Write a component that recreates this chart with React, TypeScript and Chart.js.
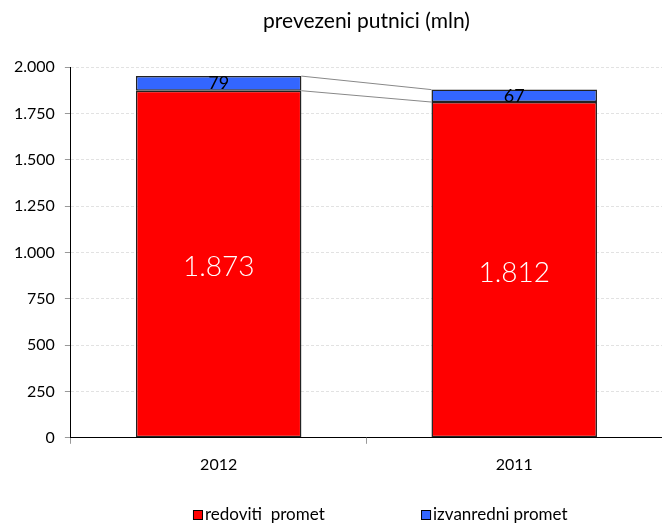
import React, { useEffect, useRef } from "react";
import { Chart, registerables } from "chart.js";

Chart.register(...registerables);

const categories = ["2012", "2011"];
const redovitiValues = [1873, 1812];
const izvanredniValues = [79, 67];
const seriesNames = ["redoviti  promet", "izvanredni promet"];
const seriesColors = ["#ff0000", "#3366ff"];
const titleText = "prevezeni putnici (mln)";
const yMax = 2000;
const yStep = 250;

const FONT = "Lato, 'Noto Sans', sans-serif";

const fmt = (v: number) =>
  String(Math.round(v)).replace(/\B(?=(\d{3})+(?!\d))/g, ".");

const seriesLinesPlugin = {
  id: "seriesLines",
  beforeDatasetsDraw(chart: any) {
    const ctx = chart.ctx;
    ctx.save();
    ctx.strokeStyle = "#888888";
    ctx.lineWidth = 1;
    chart.data.datasets.forEach((_ds: any, di: number) => {
      const meta = chart.getDatasetMeta(di);
      for (let i = 0; i < meta.data.length - 1; i++) {
        const a = meta.data[i];
        const b = meta.data[i + 1];
        ctx.beginPath();
        ctx.moveTo(a.x + a.width / 2, a.y);
        ctx.lineTo(b.x - b.width / 2, b.y);
        ctx.stroke();
      }
    });
    ctx.restore();
  },
};

const labelsPlugin = {
  id: "barLabels",
  afterDatasetsDraw(chart: any) {
    const ctx = chart.ctx;
    ctx.save();
    ctx.textAlign = "center";
    ctx.textBaseline = "middle";
    chart.data.datasets.forEach((ds: any, di: number) => {
      const meta = chart.getDatasetMeta(di);
      meta.data.forEach((bar: any, i: number) => {
        const cy = (bar.y + bar.base) / 2;
        if (di === 0) {
          ctx.fillStyle = "#ffffff";
          ctx.font = `300 28px ${FONT}`;
          ctx.fillText(fmt(ds.data[i]), bar.x, cy + 3);
        } else {
          ctx.fillStyle = "#000000";
          ctx.font = `18px ${FONT}`;
          ctx.fillText(fmt(ds.data[i]), bar.x, cy);
        }
      });
    });
    ctx.restore();
  },
};

const legendPlugin = {
  id: "customLegend",
  afterDraw(chart: any) {
    const ctx = chart.ctx;
    const w = chart.width;
    const y = chart.height - 8;
    const starts = [w * 0.2915, w * 0.636];
    ctx.save();
    ctx.font = `17px ${FONT}`;
    ctx.textBaseline = "middle";
    ctx.textAlign = "left";
    chart.data.datasets.forEach((ds: any, i: number) => {
      const x = starts[i];
      ctx.fillStyle = ds.backgroundColor;
      ctx.fillRect(x, y - 5, 10, 10);
      ctx.strokeStyle = "#000";
      ctx.lineWidth = 1;
      ctx.strokeRect(x + 0.5, y - 4.5, 9, 9);
      ctx.fillStyle = "#000";
      ctx.fillText(ds.label, x + 12, y);
    });
    ctx.restore();
  },
};

export default function App() {
  const ref = useRef<HTMLCanvasElement | null>(null);
  useEffect(() => {
    if (!ref.current) return;
    const chart = new Chart(ref.current, {
      type: "bar",
      data: {
        labels: categories,
        datasets: [
          {
            label: seriesNames[0],
            data: redovitiValues,
            backgroundColor: seriesColors[0],
            borderColor: "#222",
            borderWidth: 1.5,
            borderSkipped: false,
          },
          {
            label: seriesNames[1],
            data: izvanredniValues,
            backgroundColor: seriesColors[1],
            borderColor: "#222",
            borderWidth: 1.5,
            borderSkipped: false,
          },
        ],
      },
      options: {
        animation: false,
        responsive: false,
        maintainAspectRatio: false,
        datasets: { bar: { categoryPercentage: 1, barPercentage: 0.56 } },
        layout: { padding: { left: 4, right: 0, top: 0, bottom: 38 } },
        plugins: {
          legend: { display: false },
          tooltip: { enabled: false },
          title: {
            display: true,
            text: titleText,
            fullSize: false,
            color: "#000",
            font: { family: FONT, size: 21, weight: "normal" },
            padding: { top: 9, bottom: 33 },
          },
        },
        scales: {
          x: {
            stacked: true,
            grid: {
              offset: true,
              drawOnChartArea: false,
              tickLength: 6,
              tickColor: "#999",
            },
            border: { color: "#000", width: 1 },
            ticks: { color: "#000", font: { family: FONT, size: 16 }, padding: 11 },
          },
          y: {
            stacked: true,
            min: 0,
            max: yMax,
            grid: {
              color: "#e2e2e2",
              tickColor: "#999",
              tickLength: 6,
              drawTicks: true,
            },
            border: { color: "#000", width: 1, dash: [3, 2] },
            ticks: {
              stepSize: yStep,
              color: "#000",
              font: { family: FONT, size: 16 },
              padding: 10,
              callback: (v: any) => fmt(Number(v)),
            },
          },
        },
      },
      plugins: [seriesLinesPlugin, labelsPlugin, legendPlugin],
    });
    return () => chart.destroy();
  }, []);
  return (
    <div style={{ position: "fixed", left: 0, top: 0, width: 662, height: 523, background: "#fff" }}>
      <canvas ref={ref} width={662} height={523} />
    </div>
  );
}
